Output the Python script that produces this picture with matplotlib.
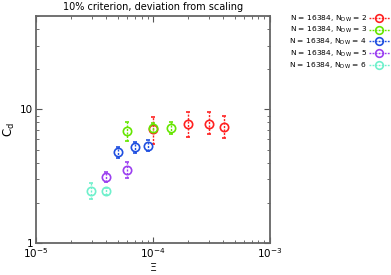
import numpy as np
import matplotlib.pyplot as plt
from matplotlib.lines import Line2D

# data (Xi, C_d, lower, upper error bar ends)
xi_2 = [1.0e-4, 2.0e-4, 3.0e-4, 4.05e-4]
cd_2 = [7.1, 7.8, 7.8, 7.4]
lo_2 = [5.5, 6.2, 6.5, 6.1]
hi_2 = [8.7, 9.5, 9.5, 8.9]

xi_3 = [6.0e-5, 1.0e-4, 1.42e-4]
cd_3 = [6.9, 7.3, 7.3]
lo_3 = [5.8, 6.7, 6.5]
hi_3 = [8.0, 7.9, 8.0]

xi_4 = [5.0e-5, 7.0e-5, 9.0e-5]
cd_4 = [4.8, 5.2, 5.35]
lo_4 = [4.3, 4.7, 4.9]
hi_4 = [5.2, 5.7, 5.9]

xi_5 = [4.0e-5, 6.0e-5]
cd_5 = [3.13, 3.55]
lo_5 = [2.84, 3.06]
hi_5 = [3.43, 4.04]

xi_6 = [2.97e-5, 3.97e-5]
cd_6 = [2.45, 2.46]
lo_6 = [2.13, 2.3]
hi_6 = [2.81, 2.6]

ndw = [2, 3, 4, 5, 6]
colors = ["#ff2020", "#66e600", "#1f4fe0", "#9b3ff0", "#6ff0cc"]

series = [(xi_2, cd_2, lo_2, hi_2), (xi_3, cd_3, lo_3, hi_3),
          (xi_4, cd_4, lo_4, hi_4), (xi_5, cd_5, lo_5, hi_5),
          (xi_6, cd_6, lo_6, hi_6)]

fig = plt.figure(figsize=(3.91, 2.75), dpi=100)
ax = fig.add_axes([0.092, 0.116, 0.598, 0.826])

handles = []
for (x, y, lo, hi), n, c in zip(series, ndw, colors):
    y = np.array(y)
    yerr = [y - np.array(lo), np.array(hi) - y]
    eb = ax.errorbar(x, y, yerr=yerr, fmt="o", ms=6, mfc="none", mec=c, mew=1.2,
                     ecolor=c, elinewidth=1.0, capsize=1.2, capthick=1.0)
    for lc in eb[2]:
        lc.set_linestyle((0, (1.5, 1.0)))
    handles.append(Line2D([], [], color=c, ls=(0, (1.3, 0.9)), lw=1, marker="o",
                          ms=5.5, mfc="none", mec=c, mew=1.2,
                          label=r"N = 16384, N$_{\mathrm{DW}}$ = %d" % n))

ax.set_xscale("log")
ax.set_yscale("log")
ax.set_xlim(1e-5, 1e-3)
ax.set_ylim(1, 50)
ax.set_yticks([1, 10])
ax.set_yticklabels(["1", "10"])
ax.tick_params(which="both", direction="in", top=True, right=True, labelsize=7.5,
               color="#555555", pad=2)
ax.tick_params(which="major", length=4)
ax.tick_params(which="minor", length=2)
for s in ax.spines.values():
    s.set_color("#666666")
    s.set_linewidth(1.3)

ax.set_xlabel(r"$\Xi$", fontsize=8, labelpad=1)
ax.set_ylabel(r"C$_{\mathrm{d}}$", fontsize=8.5, labelpad=2)
ax.set_title("10% criterion, deviation from scaling", fontsize=7, pad=4)

fig.legend(handles=handles, loc="upper right", bbox_to_anchor=(1.006, 0.965),
           markerfirst=False, frameon=False, fontsize=5.4, handlelength=2.8,
           handletextpad=0.2, labelspacing=0.22, borderpad=0)

fig.savefig("out.png", dpi=100)
